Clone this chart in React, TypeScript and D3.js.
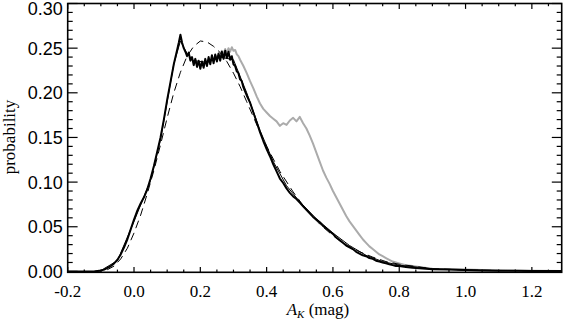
import React from "react";
import { scaleLinear, line, range } from "d3";

// observed A_K distribution (black histogram)
const blackHist: [number, number][] = [
  [-0.2, 0], [-0.12, 0], [-0.11, 0.0005], [-0.1, 0.001], [-0.09, 0.002], [-0.08, 0.004],
  [-0.07, 0.006], [-0.06, 0.009], [-0.05, 0.013], [-0.04, 0.019], [-0.03, 0.027],
  [-0.02, 0.036], [-0.01, 0.047], [0.0, 0.058], [0.01, 0.068], [0.02, 0.076],
  [0.03, 0.083], [0.04, 0.092], [0.05, 0.104], [0.06, 0.118], [0.07, 0.134],
  [0.08, 0.15], [0.09, 0.17], [0.1, 0.192], [0.11, 0.212], [0.12, 0.232],
  [0.13, 0.248], [0.135, 0.256], [0.14, 0.265], [0.145, 0.256], [0.15, 0.25],
  [0.155, 0.246], [0.16, 0.241], [0.165, 0.245], [0.17, 0.236], [0.175, 0.24],
  [0.18, 0.231], [0.185, 0.238], [0.19, 0.229], [0.195, 0.236], [0.2, 0.227],
  [0.205, 0.235], [0.21, 0.228], [0.215, 0.238], [0.22, 0.23], [0.225, 0.24],
  [0.23, 0.232], [0.235, 0.242], [0.24, 0.233], [0.245, 0.243], [0.25, 0.235],
  [0.255, 0.244], [0.26, 0.236], [0.265, 0.246], [0.27, 0.238], [0.275, 0.247],
  [0.28, 0.239], [0.285, 0.246], [0.29, 0.237], [0.295, 0.241], [0.3, 0.232],
  [0.305, 0.23], [0.31, 0.224], [0.315, 0.222], [0.32, 0.215], [0.325, 0.213],
  [0.33, 0.206], [0.34, 0.197], [0.35, 0.189], [0.36, 0.178], [0.37, 0.167],
  [0.38, 0.156], [0.39, 0.146], [0.4, 0.137], [0.41, 0.129], [0.42, 0.12],
  [0.43, 0.112], [0.44, 0.104], [0.45, 0.099], [0.46, 0.093], [0.47, 0.088],
  [0.48, 0.084], [0.49, 0.081], [0.5, 0.077], [0.51, 0.073], [0.52, 0.069],
  [0.53, 0.065], [0.54, 0.061], [0.55, 0.058], [0.56, 0.055], [0.57, 0.051],
  [0.58, 0.048], [0.59, 0.045], [0.6, 0.042], [0.61, 0.038], [0.62, 0.035],
  [0.63, 0.032], [0.64, 0.029], [0.65, 0.027], [0.66, 0.025], [0.67, 0.022],
  [0.68, 0.02], [0.69, 0.018], [0.7, 0.017], [0.71, 0.015], [0.72, 0.014],
  [0.73, 0.012], [0.74, 0.011], [0.75, 0.01], [0.76, 0.009], [0.77, 0.008],
  [0.78, 0.007], [0.79, 0.006], [0.8, 0.006], [0.82, 0.005], [0.84, 0.004],
  [0.86, 0.0035], [0.88, 0.003], [0.9, 0.0025], [0.95, 0.002], [1.0, 0.0015],
  [1.05, 0.001], [1.1, 0.0008], [1.15, 0.0006], [1.2, 0.0005], [1.29, 0.0004],
];

// grey histogram (only where it differs from the black one)
const greyHist: [number, number][] = [
  [0.24, 0.236], [0.25, 0.241], [0.26, 0.242], [0.265, 0.247], [0.27, 0.243],
  [0.275, 0.249], [0.28, 0.244], [0.285, 0.25], [0.29, 0.246], [0.295, 0.251],
  [0.3, 0.247], [0.305, 0.248], [0.31, 0.243], [0.315, 0.241], [0.32, 0.237],
  [0.33, 0.23], [0.34, 0.222], [0.35, 0.213], [0.36, 0.205], [0.37, 0.196],
  [0.38, 0.188], [0.39, 0.182], [0.4, 0.178], [0.41, 0.174], [0.42, 0.171],
  [0.43, 0.168], [0.44, 0.163], [0.45, 0.166], [0.46, 0.164], [0.47, 0.169],
  [0.48, 0.172], [0.49, 0.168], [0.5, 0.173], [0.51, 0.166], [0.52, 0.16],
  [0.53, 0.152], [0.54, 0.143], [0.55, 0.133], [0.56, 0.123], [0.57, 0.113],
  [0.58, 0.105], [0.59, 0.098], [0.6, 0.09], [0.61, 0.083], [0.62, 0.076],
  [0.63, 0.069], [0.64, 0.062], [0.65, 0.056], [0.66, 0.051], [0.67, 0.046],
  [0.68, 0.041], [0.69, 0.036], [0.7, 0.032], [0.71, 0.028], [0.72, 0.025],
  [0.73, 0.022], [0.74, 0.019], [0.75, 0.017], [0.76, 0.015], [0.77, 0.013],
  [0.78, 0.011], [0.79, 0.01], [0.8, 0.009], [0.82, 0.007], [0.84, 0.006],
  [0.86, 0.005], [0.9, 0.003], [1.0, 0.002], [1.1, 0.001], [1.29, 0.0005],
];

// smooth fit (thin solid)
const thinFit: [number, number][] = [
  [-0.12, 0], [-0.1, 0.001], [-0.05, 0.012], [0.0, 0.056], [0.05, 0.102],
  [0.08, 0.148], [0.1, 0.19], [0.12, 0.232], [0.14, 0.258], [0.16, 0.244],
  [0.18, 0.236], [0.22, 0.234], [0.26, 0.24], [0.3, 0.237], [0.34, 0.2],
  [0.38, 0.158], [0.42, 0.123], [0.46, 0.096], [0.5, 0.078], [0.55, 0.059],
  [0.6, 0.043], [0.65, 0.029], [0.7, 0.018], [0.75, 0.011], [0.8, 0.007],
  [0.9, 0.003], [1.0, 0.0015], [1.29, 0.0004],
];

// model (dashed)
const dashedModel: [number, number][] = [
  [-0.12, 0], [-0.1, 0.0005], [-0.08, 0.002], [-0.06, 0.006], [-0.04, 0.014],
  [-0.02, 0.026], [0.0, 0.043], [0.02, 0.063], [0.04, 0.087], [0.06, 0.113],
  [0.08, 0.142], [0.1, 0.172], [0.12, 0.2], [0.14, 0.223], [0.16, 0.241],
  [0.18, 0.252], [0.2, 0.258], [0.22, 0.257], [0.24, 0.252], [0.26, 0.245],
  [0.28, 0.235], [0.3, 0.222], [0.32, 0.207], [0.34, 0.19], [0.36, 0.173],
  [0.38, 0.156], [0.4, 0.14], [0.44, 0.112], [0.48, 0.089], [0.52, 0.069],
  [0.56, 0.053], [0.6, 0.04], [0.64, 0.03], [0.68, 0.022], [0.72, 0.016],
  [0.76, 0.011], [0.8, 0.008], [0.9, 0.003], [1.0, 0.0015], [1.29, 0.0002],
];

const xTicks = [-0.2, 0.0, 0.2, 0.4, 0.6, 0.8, 1.0, 1.2];
const yTicks = [0.0, 0.05, 0.1, 0.15, 0.2, 0.25, 0.3];

const W = 565;
const H = 320;
const left = 67.7, right = 561.7, top = 3.5, bottom = 272.3;

const App = () => {
  const x = scaleLinear().domain([-0.2, 1.29]).range([left, right]);
  const y = scaleLinear().domain([-0.001, 0.3]).range([bottom, top]);

  const path = line<[number, number]>()
    .x((d) => x(d[0]))
    .y((d) => y(d[1]));

  const xMinor = range(-0.2, 1.2901, 0.05).filter(
    (v) => !xTicks.some((t) => Math.abs(t - v) < 1e-6)
  );
  const yMinor = range(0, 0.3001, 0.01).filter(
    (v) => !yTicks.some((t) => Math.abs(t - v) < 1e-6)
  );

  const xMaj = 5.4, xMin = 2.7, yMaj = 9.9, yMin = 5;

  return (
    <svg
      width={W}
      height={H}
      style={{ position: "absolute", left: 0, top: 0, background: "#fff" }}
    >
      <defs>
        <clipPath id="plotClip">
          <rect x={left} y={top} width={right - left} height={bottom - top} />
        </clipPath>
      </defs>

      <g clipPath="url(#plotClip)" fill="none" strokeLinejoin="round">
        <path d={path(greyHist) || ""} stroke="#ababab" strokeWidth={2} />
        <path d={path(dashedModel) || ""} stroke="#000" strokeWidth={1} strokeDasharray="8,5" />
        <path d={path(thinFit) || ""} stroke="#000" strokeWidth={1} />
        <path d={path(blackHist) || ""} stroke="#000" strokeWidth={2} />
      </g>

      {/* ticks, all four sides pointing inward */}
      <g stroke="#000" strokeWidth={1.2}>
        {xTicks.map((t) => (
          <g key={"xt" + t}>
            <line x1={x(t)} x2={x(t)} y1={bottom} y2={bottom - xMaj} />
            <line x1={x(t)} x2={x(t)} y1={top} y2={top + xMaj} />
          </g>
        ))}
        {xMinor.map((t) => (
          <g key={"xm" + t}>
            <line x1={x(t)} x2={x(t)} y1={bottom} y2={bottom - xMin} />
            <line x1={x(t)} x2={x(t)} y1={top} y2={top + xMin} />
          </g>
        ))}
        {yTicks.map((t) => (
          <g key={"yt" + t}>
            <line x1={left} x2={left + yMaj} y1={y(t)} y2={y(t)} />
            <line x1={right} x2={right - yMaj} y1={y(t)} y2={y(t)} />
          </g>
        ))}
        {yMinor.map((t) => (
          <g key={"ym" + t}>
            <line x1={left} x2={left + yMin} y1={y(t)} y2={y(t)} />
            <line x1={right} x2={right - yMin} y1={y(t)} y2={y(t)} />
          </g>
        ))}
      </g>

      <rect
        x={left}
        y={top}
        width={right - left}
        height={bottom - top}
        fill="none"
        stroke="#000"
        strokeWidth={1.6}
      />

      {/* tick labels */}
      <g fontFamily="'Liberation Sans', Arial, sans-serif" fontSize={18} textAnchor="end">
        {yTicks.map((t) => (
          <text key={"yl" + t} x={left - 5} y={Math.max(y(t) + 6.5, 15)}>
            {t.toFixed(2)}
          </text>
        ))}
      </g>
      <g fontFamily="'Liberation Serif', 'Times New Roman', serif" fontSize={17} textAnchor="middle">
        {xTicks.map((t) => (
          <text key={"xl" + t} x={x(t)} y={296.5}>
            {t.toFixed(1)}
          </text>
        ))}
      </g>

      {/* axis titles */}
      <text
        transform="translate(15,137) rotate(-90)"
        textAnchor="middle"
        fontFamily="'Liberation Serif', 'Times New Roman', serif"
        fontSize={17}
      >
        probability
      </text>
      <text
        x={318}
        y={315}
        textAnchor="middle"
        fontFamily="'Liberation Serif', 'Times New Roman', serif"
        fontSize={17}
      >
        <tspan fontStyle="italic">A</tspan>
        <tspan fontStyle="italic" fontSize={11} dy={3}>K</tspan>
        <tspan dy={-3}> (mag)</tspan>
      </text>
    </svg>
  );
};

export default App;
